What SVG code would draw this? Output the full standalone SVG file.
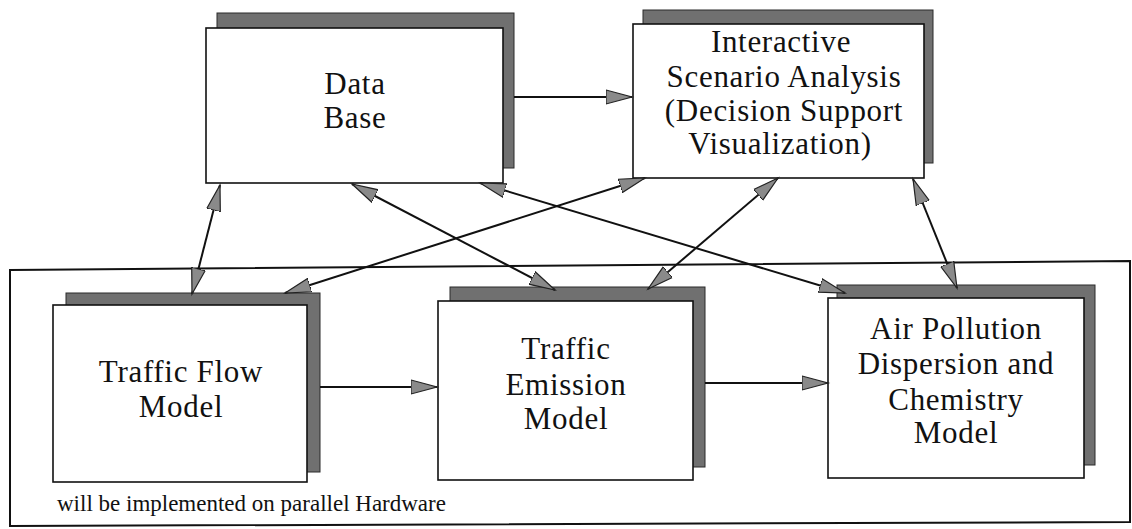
<svg xmlns="http://www.w3.org/2000/svg" width="1132" height="529" viewBox="0 0 1132 529">
<style>
.shadow{fill:#707070;stroke:#2a2a2a;stroke-width:1}
.box{fill:#fff;stroke:#111;stroke-width:1.6}
.lbl{font-family:"Liberation Serif","Times New Roman",serif;font-size:31px;fill:#111;text-anchor:middle;letter-spacing:0.7px}
.foot{font-family:"Liberation Serif","Times New Roman",serif;font-size:23px;fill:#111}
.con{stroke:#111;stroke-width:2;fill:none}
.frame{fill:none;stroke:#111;stroke-width:2}
</style>
<defs>
<marker id="ah" markerUnits="userSpaceOnUse" markerWidth="30" markerHeight="18" refX="26" refY="8" orient="auto-start-reverse" viewBox="0 0 30 16">
<path d="M0,1 L26,8 L0,15 Z" fill="#8a8a8a" stroke="#222" stroke-width="1.2"/>
</marker>
</defs>
<rect width="1132" height="529" fill="#fff"/>
<polygon id="parallel-frame" class="frame" points="10,270 1130,261 1130,522 10,526"/>
<g id="data-base">
<rect class="shadow" x="217" y="13" width="297" height="155"/>
<rect class="box" x="206" y="28" width="297" height="155"/>
<text class="lbl" x="355" y="94">Data</text>
<text class="lbl" x="355" y="128">Base</text>
</g>
<g id="scenario-analysis">
<rect class="shadow" x="643" y="10" width="290" height="153"/>
<rect class="box" x="633" y="24" width="291" height="154"/>
<text class="lbl" x="781" y="52">Interactive</text>
<text class="lbl" x="784" y="87">Scenario Analysis</text>
<text class="lbl" x="784" y="121">(Decision Support</text>
<text class="lbl" x="780" y="154">Visualization)</text>
</g>
<g id="traffic-flow">
<rect class="shadow" x="66" y="293" width="254" height="179"/>
<rect class="box" x="53" y="305" width="254" height="177"/>
<text class="lbl" x="181" y="382">Traffic Flow</text>
<text class="lbl" x="181" y="417">Model</text>
</g>
<g id="traffic-emission">
<rect class="shadow" x="450" y="287" width="255" height="180"/>
<rect class="box" x="438" y="301" width="255" height="179"/>
<text class="lbl" x="566" y="359">Traffic</text>
<text class="lbl" x="566" y="395">Emission</text>
<text class="lbl" x="566" y="429">Model</text>
</g>
<g id="air-pollution">
<rect class="shadow" x="837" y="285" width="258" height="180"/>
<rect class="box" x="828" y="298" width="256" height="180"/>
<text class="lbl" x="956" y="339">Air Pollution</text>
<text class="lbl" x="956" y="374">Dispersion and</text>
<text class="lbl" x="956" y="410">Chemistry</text>
<text class="lbl" x="956" y="443">Model</text>
</g>
<text id="footer" class="foot" x="57" y="511">will be implemented on parallel Hardware</text>
<g id="connectors">
<line class="con" x1="220" y1="185" x2="192" y2="294" marker-start="url(#ah)" marker-end="url(#ah)"/>
<line class="con" x1="352" y1="184" x2="555" y2="290" marker-start="url(#ah)" marker-end="url(#ah)"/>
<line class="con" x1="480" y1="183" x2="845" y2="293" marker-start="url(#ah)" marker-end="url(#ah)"/>
<line class="con" x1="645" y1="178" x2="285" y2="293" marker-start="url(#ah)" marker-end="url(#ah)"/>
<line class="con" x1="778" y1="178" x2="648" y2="289" marker-start="url(#ah)" marker-end="url(#ah)"/>
<line class="con" x1="913" y1="179" x2="957" y2="288" marker-start="url(#ah)" marker-end="url(#ah)"/>
<line class="con" x1="514" y1="97" x2="632" y2="97" marker-end="url(#ah)"/>
<line class="con" x1="320" y1="387" x2="437" y2="387" marker-end="url(#ah)"/>
<line class="con" x1="705" y1="383" x2="828" y2="383" marker-end="url(#ah)"/>
</g>
</svg>
